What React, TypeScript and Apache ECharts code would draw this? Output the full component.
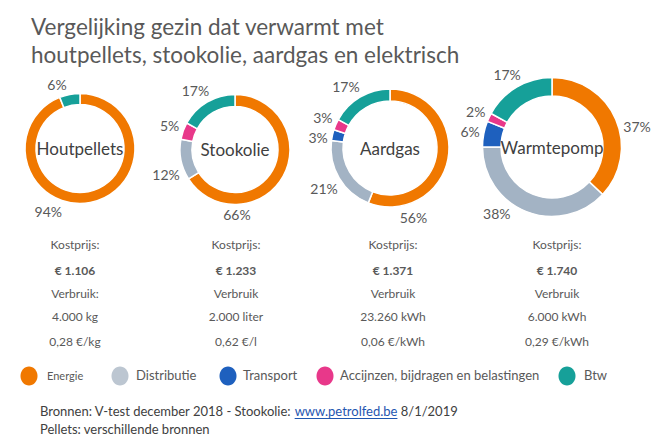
import React, { useEffect, useRef } from "react";
import * as echarts from "echarts";

// ---- data ----
const categories = ["Energie", "Distributie", "Transport", "Accijnzen, bijdragen en belastingen", "Btw"];
const heatingTypes = ["Houtpellets", "Stookolie", "Aardgas", "Warmtepomp"];
const houtpellets = [94, 0, 0, 0, 6];
const stookolie = [66, 12, 0, 5, 17];
const aardgas = [56, 21, 3, 3, 17];
const warmtepomp = [37, 38, 6, 2, 17];
const kostprijsLabels = ["Kostprijs:", "Kostprijs:", "Kostprijs:", "Kostprijs:"];
const kostprijs = ["€ 1.106", "€ 1.233", "€ 1.371", "€ 1.740"];
const verbruikLabels = ["Verbruik:", "Verbruik", "Verbruik", "Verbruik"];
const verbruik = ["4.000 kg", "2.000 liter", "23.260 kWh", "6.000 kWh"];
const eenheidsprijs = ["0,28 €/kg", "0,62 €/l", "0,06 €/kWh", "0,29 €/kWh"];

// ---- styles / layout ----
const FONT = "Lato";
const colors = ["#F07800", "#A3B3C4", "#1E60BE", "#E8388A", "#16A099"];
const legendColors = ["#F07800", "#BCC6D1", "#1E60BE", "#E8388A", "#16A099"];
const donutLayout = [
  { cx: 80, cy: 148.5, r0: 44, r: 55 },
  { cx: 235, cy: 149.5, r0: 43, r: 55 },
  { cx: 390, cy: 148, r0: 47, r: 59 },
  { cx: 552, cy: 147, r0: 51, r: 69.5 },
];
// angular nudges (degrees) of the percentage labels relative to slice mid-angle
const labelShift = [
  [37.5, 0, 0, 0, -9],
  [59.5, -9, 0, 0, -3],
  [60.5, -1, -4.6, 1, -5],
  [10, 18, 0, 0, -1],
];
const colX = [75, 236, 393, 557];
const rowY = [244, 270, 293, 316, 341];
const legendIconX = [29, 120, 228, 325, 567];
const legendTextX = [47, 136, 243, 340, 584];
const legendY = 376;

export default function App() {
  const ref = useRef<HTMLDivElement>(null);

  useEffect(() => {
    document.body.style.margin = "0";
    if (!ref.current) return;
    const chart = echarts.init(ref.current, null, { renderer: "svg" });
    const allValues = [houtpellets, stookolie, aardgas, warmtepomp];

    const sliceInfo = allValues.map((vals, si) => {
      const total = vals.reduce((a, b) => a + b, 0);
      let acc = 0;
      const out: { idx: number; mid: number }[] = [];
      vals.forEach((v, i) => {
        const start = (acc / total) * 360;
        acc += v;
        const end = (acc / total) * 360;
        if (v > 0) out.push({ idx: i, mid: (start + end) / 2 + labelShift[si][i] });
      });
      return out;
    });

    const series = allValues.map((vals, si) => {
      const L = donutLayout[si];
      return {
        type: "pie",
        center: [L.cx, L.cy],
        radius: [L.r0, L.r],
        startAngle: 90,
        clockwise: true,
        avoidLabelOverlap: false,
        silent: true,
        itemStyle: { borderColor: "#ffffff", borderWidth: 1.5 },
        label: {
          show: true,
          position: "outside",
          formatter: "{c}%",
          color: "#595959",
          fontSize: 14,
          fontFamily: FONT,
        },
        labelLine: { show: false },
        emphasis: { disabled: true },
        data: vals
          .map((v, i) => ({ name: categories[i], value: v, itemStyle: { color: colors[i] } }))
          .filter((d) => d.value > 0),
        labelLayout: (params: any) => {
          const info = sliceInfo[si][params.dataIndex];
          const a = (info.mid * Math.PI) / 180;
          const s = Math.sin(a);
          const c = Math.cos(a);
          const hw = params.labelRect.width / 2;
          const hh = params.labelRect.height / 2;
          const d = L.r + 3 + hw * Math.abs(s) + hh * Math.abs(c);
          return {
            x: L.cx + d * s,
            y: L.cy - d * c,
            align: "center",
            verticalAlign: "middle",
          };
        },
      };
    });

    const graphic: any[] = [];
    heatingTypes.forEach((name, si) => {
      const L = donutLayout[si];
      graphic.push({
        type: "text",
        x: L.cx,
        y: L.cy,
        z: 100,
        silent: true,
        style: {
          text: name,
          fill: "#404040",
          fontSize: 17,
          fontFamily: FONT,
          align: "center",
          verticalAlign: "middle",
        },
      });
    });
    const rows = [kostprijsLabels, kostprijs, verbruikLabels, verbruik, eenheidsprijs];
    rows.forEach((row, ri) => {
      row.forEach((txt, ci) => {
        graphic.push({
          type: "text",
          x: colX[ci],
          y: rowY[ri],
          silent: true,
          style: {
            text: txt,
            fill: "#595959",
            fontSize: 12,
            fontWeight: ri === 1 ? "bold" : "normal",
            fontFamily: FONT,
            align: "center",
            verticalAlign: "middle",
          },
        });
      });
    });
    categories.forEach((name, i) => {
      graphic.push({
        type: "ellipse",
        silent: true,
        shape: { cx: legendIconX[i], cy: legendY, rx: 8.5, ry: 9.5 },
        style: { fill: legendColors[i] },
      });
      graphic.push({
        type: "text",
        x: legendTextX[i],
        y: legendY - 1,
        silent: true,
        style: {
          text: name,
          fill: "#595959",
          fontSize: i === 0 ? 11 : 13,
          fontFamily: FONT,
          align: "left",
          verticalAlign: "middle",
        },
      });
    });

    // footer
    const footSize = 13;
    const footFont = `${footSize}px ${FONT}`;
    const pre = "Bronnen: V-test december 2018 - Stookolie: ";
    const link = "www.petrolfed.be";
    const post = " 8/1/2019";
    const ctx = document.createElement("canvas").getContext("2d")!;
    ctx.font = footFont;
    const preW = ctx.measureText(pre).width;
    const linkW = ctx.measureText(link).width;
    const fx = 40;
    graphic.push({
      type: "text",
      x: fx,
      y: 411,
      silent: true,
      style: {
        text: pre + "{l|" + link + "}" + post,
        fill: "#404040",
        fontSize: footSize,
        fontFamily: FONT,
        align: "left",
        verticalAlign: "middle",
        rich: { l: { fill: "#1F56B0", fontSize: footSize, fontFamily: FONT } },
      },
    });
    graphic.push({
      type: "line",
      silent: true,
      shape: { x1: fx + preW, y1: 418.5, x2: fx + preW + linkW, y2: 418.5 },
      style: { stroke: "#1F56B0", lineWidth: 1 },
    });
    graphic.push({
      type: "text",
      x: fx,
      y: 429,
      silent: true,
      style: {
        text: "Pellets: verschillende bronnen",
        fill: "#404040",
        fontSize: footSize,
        fontFamily: FONT,
        align: "left",
        verticalAlign: "middle",
      },
    });

    chart.setOption({
      animation: false,
      title: {
        text: "Vergelijking gezin dat verwarmt met\nhoutpellets, stookolie, aardgas en elektrisch",
        left: 26,
        top: 7,
        textStyle: {
          color: "#595959",
          fontSize: 22.5,
          lineHeight: 28,
          fontWeight: "normal",
          fontFamily: FONT,
        },
      },
      series,
      graphic,
    });
    return () => chart.dispose();
  }, []);

  return <div ref={ref} style={{ width: 660, height: 442 }} />;
}
